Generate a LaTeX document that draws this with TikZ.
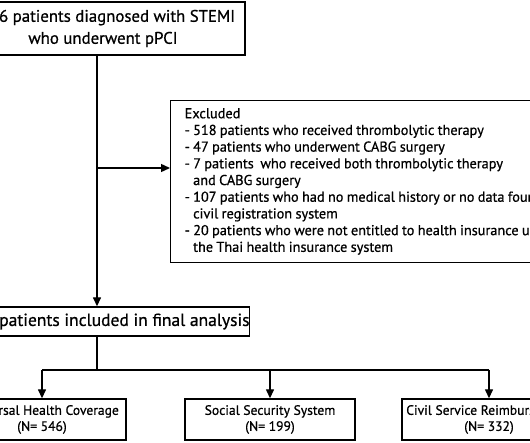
\documentclass[tikz,border=0pt]{standalone}
\usepackage{fontspec}
\setmainfont{PT Sans}[FakeBold=0.7]
\usetikzlibrary{arrows.meta}
\begin{document}
\begin{tikzpicture}[x=1pt,y=-1pt,
  box/.style={draw=black,line width=1.4pt,rectangle,inner sep=0pt,align=center},
  arr/.style={line width=1.4pt,-{Triangle[length=9pt,width=8pt]}},
  ln/.style={line width=1.4pt}]
\useasboundingbox (0,0) rectangle (530,443);
\clip (0,0) rectangle (530,443);
\node[box,minimum width=296pt,minimum height=53pt,font=\fontsize{16.8}{22}\selectfont] (top) at (97,28.5)
  {\hspace*{9pt}1,776 patients diagnosed with STEMI\\\hspace*{12pt}who underwent pPCI};
\node[box,minimum width=300pt,minimum height=29pt,font=\fontsize{17.5}{22}\selectfont] (final) at (97,321.5)
  {\hspace*{8pt}1,077 patients included in final analysis};
\node[box,anchor=north west,minimum width=450pt,minimum height=162pt,text width=436pt,inner xsep=14pt,align=left] (excl) at (170,100)
  {\fontsize{14.3}{16.7}\selectfont\begin{tabular}{@{}l@{\ }l@{}}
  \multicolumn{2}{@{}l@{}}{Excluded}\\
  -&518 patients who received thrombolytic therapy\\
  -&47 patients who underwent CABG surgery\\
  -&7 patients\ \ who received both thrombolytic therapy\\
   &and CABG surgery\\
  -&107 patients who had no medical history or no data found in the\\
   &civil registration system\\
  -&20 patients who were not entitled to health insurance under\\
   &the Thai health insurance system
  \end{tabular}};
\node[box,minimum width=168pt,minimum height=41pt,font=\fontsize{13.6}{16}\selectfont] (uhc) at (42,419.5)
  {Universal Health Coverage\\(N= 546)};
\node[box,minimum width=170pt,minimum height=41pt,font=\fontsize{13.6}{16}\selectfont] (sss) at (270,419.5)
  {Social Security System\\(N= 199)};
\node[box,minimum width=174pt,minimum height=41pt,font=\fontsize{13.6}{16}\selectfont] (csr) at (489,419.5)
  {Civil Service Reimbursement\\(N= 332)};
\coordinate (b1) at (97,168);
\coordinate (b2) at (97,370);
\draw[arr] (top.south) -- (final.north);
\draw[arr] (b1) -- (b1 -| excl.west);
\draw[ln] (final.south) -- (b2);
\draw[ln] (b2 -| uhc.north) -- (b2 -| csr.north);
\draw[arr] (b2 -| uhc.north) -- (uhc.north);
\draw[arr] (b2 -| sss.north) -- (sss.north);
\draw[arr] (b2 -| csr.north) -- (csr.north);
\end{tikzpicture}
\end{document}
